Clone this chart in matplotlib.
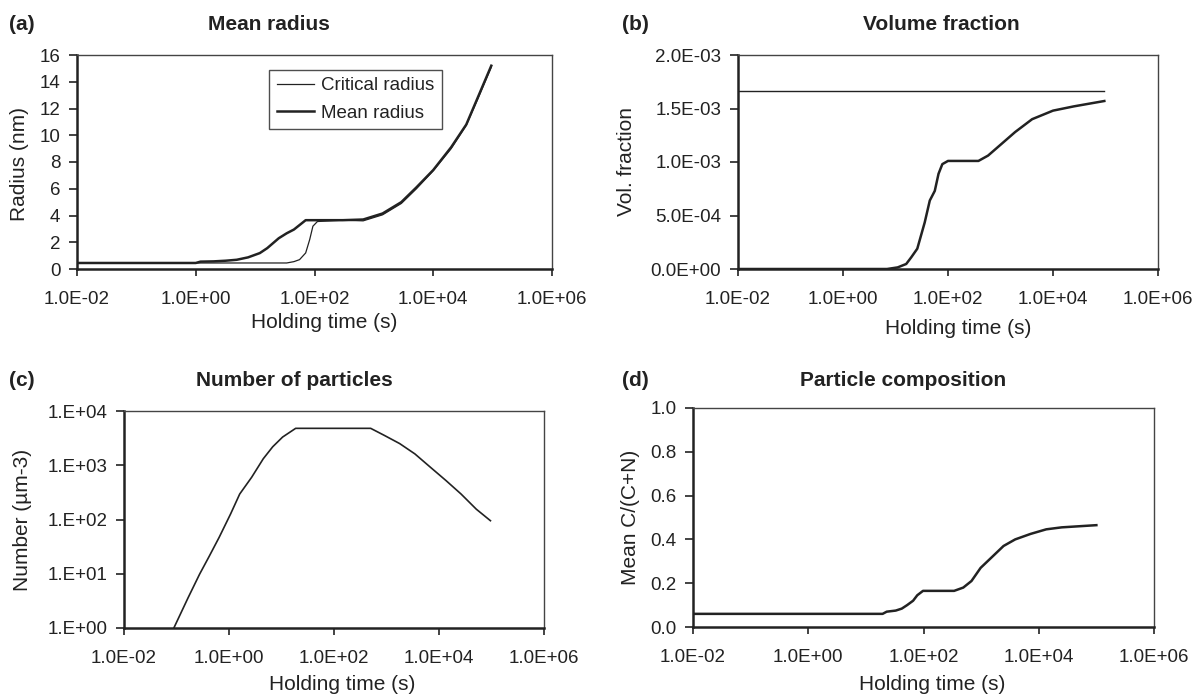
import math
import matplotlib
matplotlib.use("Agg")
import matplotlib.pyplot as plt
from matplotlib.ticker import FixedLocator, FuncFormatter, NullLocator

plt.rcParams['font.family'] = ['Liberation Sans', 'DejaVu Sans']
plt.rcParams['text.color'] = '#222222'
plt.rcParams['xtick.color'] = '#222222'
plt.rcParams['ytick.color'] = '#222222'

W, H = 1200, 695

# ---- data ----
# (a) mean radius
t_mean = [0.01, 1.0, 1.2, 2.0, 3.2, 4.9, 7.6, 12, 16, 25, 34, 45, 71, 100, 300, 660,
          1400, 2900, 5200, 10000, 20000, 36000, 56000, 95000]
r_mean = [0.45, 0.45, 0.55, 0.57, 0.62, 0.69, 0.87, 1.19, 1.56, 2.3, 2.67, 2.95, 3.65, 3.65,
          3.65, 3.7, 4.15, 5.0, 6.1, 7.4, 9.1, 10.8, 12.8, 15.2]
t_crit = [0.01, 34, 45, 56, 71, 83, 94, 112, 300, 660, 1400, 2900, 5200, 10000, 20000,
          36000, 56000, 95000]
r_crit = [0.45, 0.45, 0.55, 0.7, 1.2, 2.2, 3.2, 3.55, 3.65, 3.6, 4.05, 4.9, 6.0, 7.35, 9.0,
          10.75, 12.7, 15.1]

# (b) volume fraction
t_eq = [0.01, 95000]
v_eq = [1.66e-3, 1.66e-3]
t_vol = [0.01, 6.9, 11, 16, 20, 26, 36, 45, 56, 66, 78, 100, 380, 580, 1050, 1900, 4000,
         10000, 25000, 95000]
v_vol = [0, 0, 0.015e-3, 0.047e-3, 0.11e-3, 0.19e-3, 0.435e-3, 0.64e-3, 0.73e-3, 0.89e-3,
         0.98e-3, 1.01e-3, 1.01e-3, 1.06e-3, 1.17e-3, 1.28e-3, 1.40e-3, 1.48e-3, 1.52e-3, 1.57e-3]

# (c) number of particles
t_num = [0.089, 0.166, 0.275, 0.42, 0.65, 1.07, 1.6, 2.7, 4.5, 6.8, 10.5, 18.6, 500, 910,
         1780, 3470, 6760, 13500, 26300, 51300, 95500]
n_num = [1.0, 3.6, 9.8, 21, 47, 126, 295, 600, 1320, 2190, 3310, 4790, 4790, 3550, 2510,
         1620, 930, 525, 295, 155, 95]

# (d) particle composition
t_comp = [0.01, 19.5, 23, 33, 42, 52, 66, 78, 98, 340, 490, 680, 980, 1550, 2450, 3900,
          7200, 13500, 25000, 100000]
c_comp = [0.06, 0.06, 0.07, 0.075, 0.084, 0.10, 0.12, 0.145, 0.165, 0.165, 0.18, 0.21, 0.27,
          0.32, 0.37, 0.40, 0.425, 0.446, 0.455, 0.465]

x_ticks = [1e-2, 1e0, 1e2, 1e4, 1e6]
x_labels = ['1.0E-02', '1.0E+00', '1.0E+02', '1.0E+04', '1.0E+06']


def make_axes(fig, left, right, top, bottom):
    ax = fig.add_axes([left / W, 1 - bottom / H, (right - left) / W, (bottom - top) / H])
    ax.set_xscale('log')
    ax.set_xlim(1e-2, 1e6)
    ax.xaxis.set_major_locator(FixedLocator(x_ticks))
    ax.xaxis.set_minor_locator(NullLocator())
    ax.set_xticklabels(x_labels)
    ax.tick_params(axis='x', direction='out', length=5, width=1.2, pad=11, labelsize=13.5)
    ax.tick_params(axis='y', direction='out', length=6, width=1.2, pad=6, labelsize=13.5)
    for s in ['left', 'bottom']:
        ax.spines[s].set_linewidth(1.8)
        ax.spines[s].set_color('#222222')
    for s in ['top', 'right']:
        ax.spines[s].set_linewidth(1.0)
        ax.spines[s].set_color('#444444')
    return ax


def ftext(x, y, s, **kw):
    fig.text(x / W, 1 - y / H, s, ha='center', va='center', **kw)


fig = plt.figure(figsize=(12, 6.95), dpi=100)

# (a)
ax = make_axes(fig, 77, 552, 55, 269)
ax.plot(t_crit, r_crit, color='#222222', lw=0.9, label='Critical radius')
ax.plot(t_mean, r_mean, color='#222222', lw=1.8, label='Mean radius')
ax.set_ylim(0, 16)
ax.set_yticks(range(0, 17, 2))
leg = ax.legend(loc='upper left', bbox_to_anchor=(0.385, 0.975), fontsize=13.5,
                frameon=True, fancybox=False, edgecolor='#222222', handlelength=2.0,
                borderpad=0.4, labelspacing=0.55, handletextpad=0.35)
leg.get_frame().set_linewidth(1.0)
ftext(20, 164, 'Radius (nm)', rotation=90, fontsize=15)
ftext(324, 323, 'Holding time (s)', fontsize=15)
ftext(269, 24, 'Mean radius', fontsize=15, fontweight='bold')
ftext(22, 24, '(a)', fontsize=15, fontweight='bold')

# (b)
ax = make_axes(fig, 738, 1158, 55, 269)
ax.plot(t_eq, v_eq, color='#222222', lw=1.0)
ax.plot(t_vol, v_vol, color='#222222', lw=1.8)
ax.set_ylim(0, 2e-3)
ax.set_yticks([0, 5e-4, 1e-3, 1.5e-3, 2e-3])
ax.yaxis.set_major_formatter(FuncFormatter(
    lambda v, p: '0.0E+00' if v == 0 else '%.1E' % v))
ftext(627, 162, 'Vol. fraction', rotation=90, fontsize=15)
ftext(958, 328, 'Holding time (s)', fontsize=15)
ftext(941, 25, 'Volume fraction', fontsize=15, fontweight='bold')
ftext(635, 25, '(b)', fontsize=15, fontweight='bold')

# (c)
ax = make_axes(fig, 124, 544, 411, 628)
ax.plot(t_num, n_num, color='#222222', lw=1.2)
ax.set_yscale('log')
ax.set_ylim(1, 1e4)
ax.yaxis.set_major_locator(FixedLocator([1, 10, 100, 1000, 10000]))
ax.yaxis.set_minor_locator(NullLocator())
ax.yaxis.set_major_formatter(FuncFormatter(lambda v, p: '1.E+%02d' % round(math.log10(v))))
ftext(23, 520, 'Number (µm-3)', rotation=90, fontsize=15)
ftext(342, 685, 'Holding time (s)', fontsize=15)
ftext(294, 380, 'Number of particles', fontsize=15, fontweight='bold')
ftext(22, 380, '(c)', fontsize=15, fontweight='bold')

# (d)
ax = make_axes(fig, 693, 1154, 408, 627)
ax.plot(t_comp, c_comp, color='#222222', lw=1.8)
ax.set_ylim(0, 1)
ax.set_yticks([0, 0.2, 0.4, 0.6, 0.8, 1.0])
ax.yaxis.set_major_formatter(FuncFormatter(lambda v, p: '%.1f' % v))
ftext(630, 517, 'Mean C/(C+N)', rotation=90, fontsize=15)
ftext(932, 685, 'Holding time (s)', fontsize=15)
ftext(903, 380, 'Particle composition', fontsize=15, fontweight='bold')
ftext(635, 380, '(d)', fontsize=15, fontweight='bold')

fig.savefig('out.png', dpi=100)
